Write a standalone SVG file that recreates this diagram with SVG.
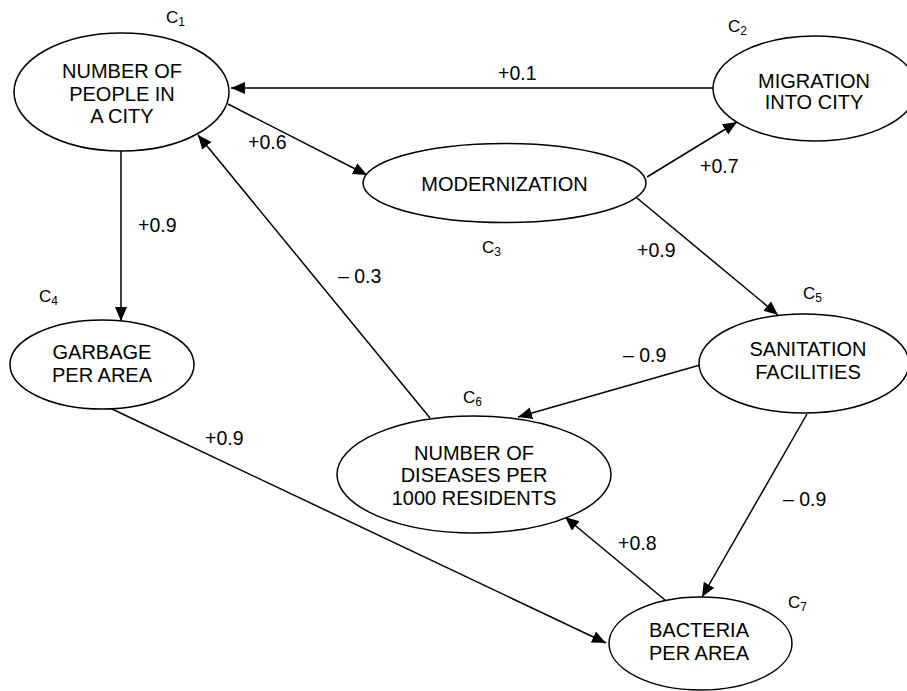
<svg xmlns="http://www.w3.org/2000/svg" width="907" height="691" viewBox="0 0 907 691">
<style>
  .node ellipse { fill: #fff; stroke: #000; stroke-width: 1.5; }
  .node text { font-family: "Liberation Sans", Arial, sans-serif; font-size: 20px; text-anchor: middle; fill: #000; }
  .cid { font-family: "Liberation Sans", Arial, sans-serif; font-size: 17px; fill: #000; }
  .cid tspan.sub { font-size: 12px; }
  #connectors line { stroke: #000; stroke-width: 1.5; marker-end: url(#arrow); }
  .lbl { font-family: "Liberation Sans", Arial, sans-serif; font-size: 19.5px; fill: #000; }
</style>
<defs>
  <marker id="arrow" markerUnits="userSpaceOnUse" markerWidth="15" markerHeight="13" refX="14" refY="6" orient="auto">
    <path d="M0,0 L14,6 L0,12 z" fill="#000"/>
  </marker>
</defs>
<rect width="907" height="691" fill="#fff"/>

<g id="connectors">
  <line x1="713" y1="88" x2="231" y2="88"/>
  <line x1="228" y1="104" x2="367" y2="175"/>
  <line x1="647" y1="177" x2="737" y2="122"/>
  <line x1="637" y1="198" x2="778" y2="315"/>
  <line x1="121" y1="151" x2="121" y2="321"/>
  <line x1="430" y1="418" x2="198" y2="135"/>
  <line x1="112" y1="409" x2="606" y2="643"/>
  <line x1="700" y1="365" x2="518" y2="417"/>
  <line x1="807" y1="414" x2="702" y2="597"/>
  <line x1="665" y1="600" x2="565" y2="517"/>
</g>

<g id="edge-labels">
  <text class="lbl" x="498" y="80">+0.1</text>
  <text class="lbl" x="248" y="149">+0.6</text>
  <text class="lbl" x="700" y="173">+0.7</text>
  <text class="lbl" x="138" y="232">+0.9</text>
  <text class="lbl" x="338" y="283">– 0.3</text>
  <text class="lbl" x="637" y="257">+0.9</text>
  <text class="lbl" x="623" y="362">– 0.9</text>
  <text class="lbl" x="205" y="445">+0.9</text>
  <text class="lbl" x="783" y="506">– 0.9</text>
  <text class="lbl" x="618" y="550">+0.8</text>
</g>

<g id="C1" class="node">
  <ellipse cx="121.5" cy="92" rx="107.5" ry="59"/>
  <text x="122" y="78">NUMBER OF</text>
  <text x="122" y="101">PEOPLE IN</text>
  <text x="122" y="123">A CITY</text>
  <text class="cid" x="166" y="23" style="text-anchor:start;font-size:17px">C<tspan class="sub" dy="3">1</tspan></text>
</g>

<g id="C2" class="node">
  <ellipse cx="815" cy="88.5" rx="102" ry="52.5"/>
  <text x="814" y="88">MIGRATION</text>
  <text x="814" y="109">INTO CITY</text>
  <text class="cid" x="728" y="32" style="text-anchor:start;font-size:17px">C<tspan class="sub" dy="3">2</tspan></text>
</g>

<g id="C3" class="node">
  <ellipse cx="504.5" cy="183" rx="141.5" ry="39.5"/>
  <text x="504.5" y="191">MODERNIZATION</text>
  <text class="cid" x="482" y="253" style="text-anchor:start;font-size:17px">C<tspan class="sub" dy="3">3</tspan></text>
</g>

<g id="C4" class="node">
  <ellipse cx="102" cy="364.5" rx="92" ry="44.5"/>
  <text x="102" y="359">GARBAGE</text>
  <text x="102" y="382">PER AREA</text>
  <text class="cid" x="39" y="302" style="text-anchor:start;font-size:17px">C<tspan class="sub" dy="3">4</tspan></text>
</g>

<g id="C5" class="node">
  <ellipse cx="804" cy="363.5" rx="105" ry="49.5"/>
  <text x="808" y="356">SANITATION</text>
  <text x="808" y="379">FACILITIES</text>
  <text class="cid" x="803" y="299" style="text-anchor:start;font-size:17px">C<tspan class="sub" dy="3">5</tspan></text>
</g>

<g id="C6" class="node">
  <ellipse cx="474" cy="474.5" rx="137" ry="58.5"/>
  <text x="474" y="460">NUMBER OF</text>
  <text x="474" y="482">DISEASES PER</text>
  <text x="474" y="505">1000 RESIDENTS</text>
  <text class="cid" x="463" y="403" style="text-anchor:start;font-size:17px">C<tspan class="sub" dy="3">6</tspan></text>
</g>

<g id="C7" class="node">
  <ellipse cx="700.5" cy="643.5" rx="91.5" ry="46.5"/>
  <text x="699" y="637">BACTERIA</text>
  <text x="699" y="660">PER AREA</text>
  <text class="cid" x="788" y="608" style="text-anchor:start;font-size:17px">C<tspan class="sub" dy="3">7</tspan></text>
</g>
</svg>
